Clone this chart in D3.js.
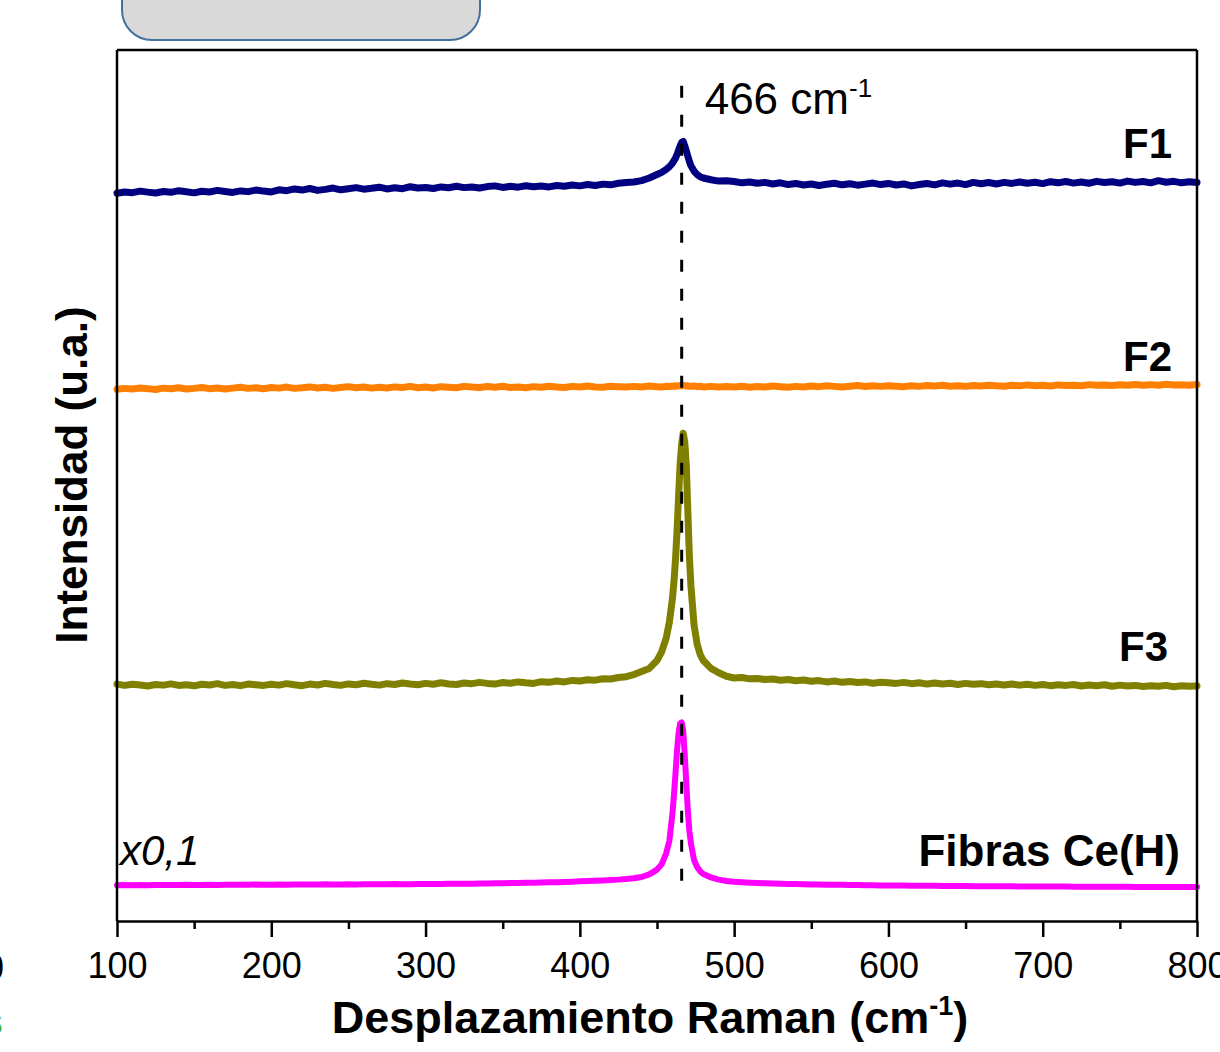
<!DOCTYPE html>
<html><head><meta charset="utf-8">
<script src="https://cdn.jsdelivr.net/npm/d3@7"></script>
<style>body{margin:0;background:#fff;} svg{display:block;font-family:"Liberation Sans",Arial,sans-serif;}</style>
</head><body><svg id="c" width="1220" height="1052"></svg>
<script>
// Raman shift sample positions (cm-1)
const ramanShift = [
 100,105,110,115,120,125,130,135,140,145,150,155,160,165,170,175,180,185,190,195,
 200,205,210,215,220,225,230,235,240,245,250,255,260,265,270,275,280,285,290,295,
 300,305,310,315,320,325,330,335,340,345,350,355,360,365,370,375,380,385,390,395,
 400,405,410,415,420,425,430,
 435,440,445,450,453,456,458,460,461,462,463,464,465,466,467,468,469,470,471,472,474,476,478,480,485,490,495,
 500,505,510,515,520,525,530,535,540,545,550,555,560,565,570,575,580,585,590,595,
 600,605,610,615,620,625,630,635,640,645,650,655,660,665,670,675,680,685,690,695,
 700,705,710,715,720,725,730,735,740,745,750,755,760,765,770,775,780,785,790,795,800
];
// Intensities (arbitrary units, stacked with offsets as in the figure)
const seriesF1 = [
 83.55,83.70,83.62,83.80,83.68,83.58,83.75,83.66,83.85,83.72,
 83.60,83.78,83.70,83.88,83.76,83.65,83.82,83.74,83.92,83.80,
 83.70,83.95,83.85,84.05,83.92,84.10,83.88,84.00,84.15,83.95,
 84.08,84.20,84.02,84.12,84.25,84.05,84.18,84.08,84.30,84.15,
 84.22,84.10,84.28,84.18,84.35,84.20,84.28,84.15,84.32,84.40,
 84.22,84.35,84.25,84.42,84.30,84.38,84.28,84.45,84.36,84.50,
 84.40,84.55,84.45,84.60,84.52,84.70,84.78,
 84.85,85.0,85.3,85.7,85.95,86.3,86.6,87.0,87.3,87.6,
 88.0,88.5,89.0,89.4,89.5,89.0,88.4,87.8,87.2,86.7,
 86.1,85.7,85.45,85.3,85.1,84.95,85.0,
 84.9,84.75,84.85,84.70,84.80,84.62,84.75,84.55,84.68,84.50,
 84.62,84.45,84.58,84.70,84.52,84.65,84.48,84.60,84.72,84.55,
 84.68,84.50,84.62,84.40,84.55,84.68,84.52,84.75,84.60,84.72,
 84.55,84.80,84.65,84.78,84.62,84.80,84.68,84.85,84.70,84.82,
 84.66,84.88,84.75,84.90,84.72,84.85,84.70,84.92,84.78,84.88,
 84.72,84.95,84.80,84.90,84.75,85.00,84.82,84.92,84.75,84.88,
 84.80
];
const seriesF2 = [
 61.05,61.15,61.08,61.20,61.12,61.02,61.18,61.10,61.22,61.08,
 61.15,61.25,61.12,61.20,61.08,61.18,61.28,61.15,61.22,61.10,
 61.25,61.18,61.30,61.15,61.22,61.32,61.20,61.28,61.15,61.25,
 61.35,61.22,61.30,61.18,61.28,61.20,61.32,61.25,61.38,61.22,
 61.30,61.20,61.35,61.28,61.22,61.38,61.30,61.25,61.36,61.28,
 61.40,61.25,61.32,61.22,61.35,61.28,61.40,61.30,61.25,61.38,
 61.30,61.42,61.32,61.28,61.40,61.35,61.30,
 61.38,61.30,61.42,61.35,61.30,61.40,61.36,61.42,61.38,61.45,
 61.40,61.44,61.48,61.45,61.50,61.46,61.42,61.45,61.40,61.38,
 61.42,61.35,61.40,61.32,61.38,61.30,61.36,
 61.32,61.40,61.28,61.36,61.30,61.42,61.35,61.28,61.38,61.32,
 61.42,61.35,61.45,61.38,61.30,61.40,61.48,61.36,61.44,61.38,
 61.46,61.40,61.35,61.45,61.38,61.48,61.42,61.50,61.40,61.46,
 61.38,61.48,61.42,61.52,61.45,61.40,61.50,61.44,61.55,61.46,
 61.50,61.42,61.55,61.48,61.52,61.45,61.58,61.50,61.55,61.48,
 61.56,61.50,61.60,61.52,61.58,61.50,61.62,61.55,61.58,61.52,61.60
];
const seriesF3 = [
 27.20,27.05,27.18,27.10,26.98,27.15,27.08,27.22,27.05,27.12,
 27.00,27.18,27.10,27.25,27.05,27.15,27.02,27.20,27.12,27.05,
 27.18,27.08,27.25,27.12,27.02,27.20,27.10,27.28,27.15,27.05,
 27.22,27.12,27.30,27.18,27.08,27.25,27.15,27.32,27.20,27.12,
 27.28,27.18,27.35,27.22,27.15,27.32,27.25,27.40,27.28,27.20,
 27.38,27.30,27.45,27.35,27.28,27.48,27.40,27.55,27.45,27.62,
 27.55,27.70,27.65,27.82,27.78,27.95,28.05,
 28.3,28.65,29.0,29.9,30.9,32.5,34.3,37.0,39.0,41.5,
 44.8,48.8,52.5,54.8,56.0,55.0,52.3,47.0,41.8,38.5,
 34.0,31.8,30.6,29.9,29.0,28.5,28.1,
 27.90,27.95,27.80,27.85,27.72,27.78,27.65,27.72,27.58,27.66,
 27.52,27.60,27.45,27.55,27.40,27.50,27.38,27.45,27.30,27.42,
 27.35,27.28,27.40,27.25,27.35,27.20,27.32,27.22,27.30,27.15,
 27.28,27.18,27.25,27.12,27.22,27.10,27.20,27.08,27.18,27.05,
 27.15,27.02,27.12,27.05,27.15,26.98,27.10,27.02,27.12,26.95,
 27.08,26.98,27.05,26.92,27.02,26.95,27.05,26.90,27.00,26.95,26.98
];
const seriesFibras = [
 4.10,4.12,4.10,4.13,4.11,4.12,4.14,4.12,4.13,4.15,
 4.13,4.14,4.16,4.14,4.15,4.17,4.15,4.16,4.18,4.16,
 4.17,4.19,4.17,4.18,4.20,4.18,4.19,4.21,4.19,4.20,
 4.22,4.20,4.21,4.23,4.21,4.22,4.24,4.22,4.23,4.25,
 4.24,4.26,4.25,4.27,4.28,4.27,4.29,4.30,4.31,4.32,
 4.33,4.35,4.36,4.38,4.40,4.42,4.44,4.46,4.49,4.52,
 4.55,4.58,4.62,4.66,4.70,4.75,4.82,
 4.9,5.05,5.35,5.9,6.5,7.8,9.2,12.3,14.5,17.0,
 19.6,21.6,22.7,22.8,21.8,19.0,15.8,12.6,10.3,8.9,
 7.0,6.2,5.7,5.4,5.0,4.75,4.6,
 4.50,4.45,4.40,4.36,4.33,4.30,4.28,4.26,4.24,4.22,
 4.20,4.19,4.17,4.16,4.15,4.13,4.12,4.11,4.10,4.09,
 4.08,4.07,4.07,4.06,4.05,4.04,4.04,4.03,4.02,4.02,
 4.01,4.00,4.00,3.99,3.99,3.98,3.98,3.97,3.97,3.96,
 3.96,3.95,3.95,3.95,3.94,3.94,3.93,3.93,3.93,3.92,
 3.92,3.92,3.91,3.91,3.91,3.90,3.90,3.90,3.89,3.89,3.89
];
const seriesNames = ["F1","F2","F3","Fibras Ce(H)"];
const seriesColors = ["#000080","#ff8000","#808000","#ff00ff"];
const xMajorTicks = [100,200,300,400,500,600,700,800];
const xMinorTicks = [150,250,350,450,550,650,750];
const peakPosition = 466;

const svg = d3.select("#c");
const x = d3.scaleLinear().domain([100,800]).range([117,1197]);
const y = d3.scaleLinear().domain([0,100]).range([921,50]);

// top rounded box (cropped)
svg.append("rect").attr("x",122).attr("y",-40).attr("width",358).attr("height",80)
  .attr("rx",30).attr("fill","#d9d9d9").attr("stroke","#41719c").attr("stroke-width",2);

// left-edge fragments
svg.append("text").attr("x",4).attr("y",980).attr("text-anchor","end")
  .attr("font-size",36).text("0");
svg.append("text").attr("x",3).attr("y",1035).attr("text-anchor","end")
  .attr("font-size",40).attr("font-weight","bold").attr("fill","#3aaa35").text("s");

// curves
const allSeries = [seriesF1, seriesF2, seriesF3, seriesFibras];
const line = d3.line().x(d=>x(d[0])).y(d=>y(d[1]));
allSeries.forEach((vals,i)=>{
  const pts = ramanShift.map((s,j)=>[s, vals[j]]);
  svg.append("path").datum(pts).attr("d",line).attr("fill","none")
    .attr("stroke",seriesColors[i]).attr("stroke-width",i===3?6:7)
    .attr("stroke-linejoin","round").attr("stroke-linecap","round");
});

// dashed reference line
svg.append("line").attr("x1",x(peakPosition)).attr("x2",x(peakPosition))
  .attr("y1",y(95.9)).attr("y2",y(3.8)).attr("stroke","#000").attr("stroke-width",3)
  .attr("stroke-dasharray","12,17");

// frame
svg.append("line").attr("x1",x(100)).attr("x2",x(800)).attr("y1",y(100)).attr("y2",y(100)).attr("stroke","#000").attr("stroke-width",2.5);
svg.append("line").attr("x1",x(100)).attr("x2",x(100)).attr("y1",y(100)).attr("y2",y(0)).attr("stroke","#000").attr("stroke-width",2.5);
svg.append("line").attr("x1",x(800)).attr("x2",x(800)).attr("y1",y(100)).attr("y2",y(0)).attr("stroke","#000").attr("stroke-width",2.5);

// x axis
const gx = svg.append("g").attr("transform",`translate(0,${y(0)})`)
  .call(d3.axisBottom(x).tickValues(xMajorTicks).tickSize(16).tickPadding(15).tickSizeOuter(0));
gx.select(".domain").attr("stroke","#000").attr("stroke-width",2.5);
gx.selectAll(".tick line").attr("stroke","#000").attr("stroke-width",2.5);
gx.selectAll(".tick text").attr("font-size",36).attr("font-family","Liberation Sans, Arial, sans-serif").attr("fill","#000");
const gm = svg.append("g").attr("transform",`translate(0,${y(0)})`)
  .call(d3.axisBottom(x).tickValues(xMinorTicks).tickSize(8).tickFormat(""));
gm.select(".domain").remove();
gm.selectAll(".tick line").attr("stroke","#000").attr("stroke-width",2.5);

// axis titles
const xt = svg.append("text").attr("x",650).attr("y",1033).attr("text-anchor","middle")
  .attr("font-size",45).attr("font-weight","bold");
xt.append("tspan").text("Desplazamiento Raman (cm");
xt.append("tspan").attr("font-size",27).attr("dy",-18).text("-1");
xt.append("tspan").attr("dy",18).text(")");

svg.append("text").attr("transform","rotate(-90)").attr("x",-475).attr("y",87)
  .attr("text-anchor","middle").attr("font-size",44).attr("font-weight","bold")
  .text("Intensidad (u.a.)");

// annotation
const an = svg.append("text").attr("x",x(peakPosition)+23).attr("y",114).attr("font-size",44);
an.append("tspan").text("466 cm");
an.append("tspan").attr("font-size",26).attr("dy",-17).text("-1");

// series labels
const labelPos = [[1172,158],[1172,371],[1168,661],[1180,866]];
seriesNames.forEach((n,i)=>{
  svg.append("text").attr("x",labelPos[i][0]).attr("y",labelPos[i][1]).attr("text-anchor","end")
    .attr("font-size",i===3?44:42).attr("font-weight","bold").text(n);
});
svg.append("text").attr("x",120).attr("y",865).attr("font-size",42).attr("font-style","italic").text("x0,1");
</script></body></html>
